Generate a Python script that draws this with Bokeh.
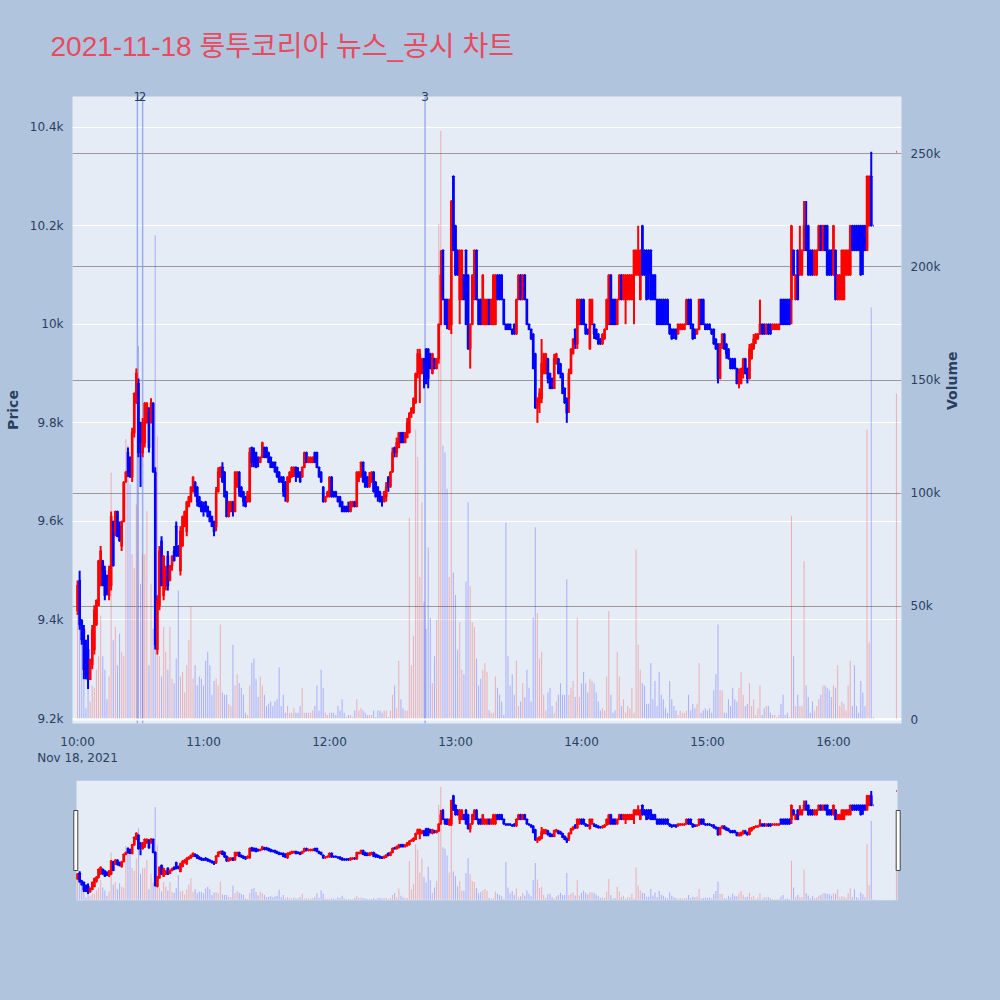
import math
import numpy as np
from bokeh.plotting import figure
from bokeh.layouts import column
from bokeh.models import (ColumnDataSource, Range1d, LinearAxis, FixedTicker, Title,
                          NumeralTickFormatter, DatetimeTickFormatter, Span, Grid)
from bokeh.embed import file_html
from bokeh.resources import INLINE

# ---------------- data ----------------
title_text = "2021-11-18 룽투코리아 뉴스_공시 차트"
session_day = "2021-11-18"
session_start = "2021-11-18T10:00"
# minute offsets from 10:00 (continuous session, then closing auction at 16:30)
minutes = list(range(380)) + [390]

opens = [
9420, 9480, 9400, 9380, 9340, 9340, 9280, 9310, 9340, 9390,
9430, 9470, 9520, 9500, 9490, 9450, 9470, 9600, 9580, 9620,
9590, 9550, 9600, 9680, 9740, 9730, 9690, 9780, 9840, 9880,
9800, 9740, 9760, 9800, 9830, 9800, 9840, 9700, 9340, 9430,
9560, 9450, 9470, 9530, 9480, 9510, 9540, 9590, 9550, 9500,
9550, 9590, 9580, 9630, 9640, 9660, 9680, 9670, 9650, 9640,
9630, 9640, 9630, 9620, 9610, 9600, 9590, 9660, 9690, 9710,
9700, 9660, 9610, 9620, 9640, 9620, 9670, 9700, 9670, 9660,
9650, 9640, 9640, 9750, 9740, 9740, 9730, 9720, 9730, 9750,
9750, 9740, 9730, 9720, 9720, 9710, 9700, 9690, 9690, 9680,
9640, 9680, 9690, 9700, 9710, 9700, 9700, 9690, 9710, 9740,
9720, 9720, 9720, 9740, 9740, 9710, 9700, 9670, 9640, 9650,
9650, 9690, 9660, 9660, 9650, 9650, 9640, 9630, 9630, 9630,
9620, 9630, 9640, 9630, 9690, 9690, 9720, 9700, 9690, 9670,
9680, 9700, 9680, 9670, 9660, 9650, 9640, 9650, 9690, 9670,
9700, 9750, 9740, 9750, 9780, 9780, 9760, 9770, 9780, 9820,
9820, 9840, 9900, 9900, 9900, 9930, 9950, 9950, 9940, 9900,
9930, 9910, 9930, 10000, 10150, 10050, 10050, 9990, 10000, 10300,
10200, 10150, 10050, 10050, 10100, 10150, 10100, 9950, 10000, 10050,
10150, 10050, 10050, 10000, 10000, 10000, 10050, 10000, 10000, 10000,
10100, 10100, 10100, 10050, 10000, 10000, 10000, 9990, 10000, 9980,
10050, 10100, 10050, 10100, 10050, 10000, 9990, 9980, 9940, 9830,
9840, 9850, 9900, 9900, 9930, 9900, 9890, 9870, 9920, 9930,
9920, 9900, 9870, 9850, 9850, 9900, 9940, 9990, 9960, 10000,
10050, 10050, 10000, 9990, 9950, 10000, 10000, 9990, 9980, 9970,
9960, 9970, 9990, 10000, 10100, 10050, 10050, 10000, 10050, 10100,
10050, 10050, 10050, 10050, 10050, 10100, 10100, 10100, 10050, 10200,
10150, 10150, 10150, 10150, 10100, 10100, 10050, 10050, 10050, 10050,
10050, 10050, 10000, 9990, 9990, 9990, 9980, 9990, 9990, 9990,
10000, 10050, 10050, 10000, 9990, 9980, 9990, 10050, 10050, 10000,
10000, 10000, 9990, 9990, 9970, 9960, 9890, 9960, 9980, 9960,
9950, 9930, 9930, 9930, 9910, 9880, 9880, 9900, 9930, 9910,
9890, 9930, 9950, 9970, 9970, 9980, 10000, 10000, 9980, 10000,
10000, 9990, 9990, 9990, 9990, 10050, 10050, 10050, 10050, 10050,
10050, 10150, 10050, 10150, 10100, 10100, 10150, 10200, 10200, 10150,
10150, 10100, 10100, 10150, 10200, 10150, 10200, 10200, 10150, 10150,
10100, 10150, 10050, 10050, 10050, 10050, 10100, 10100, 10100, 10200,
10200, 10200, 10200, 10200, 10200, 10200, 10150, 10200, 10300, 10200,
10350]

highs = [
9480, 9500, 9400, 9390, 9360, 9370, 9320, 9390, 9430, 9440,
9520, 9550, 9520, 9510, 9490, 9510, 9620, 9600, 9620, 9620,
9600, 9600, 9680, 9700, 9750, 9730, 9790, 9860, 9910, 9890,
9800, 9810, 9840, 9840, 9830, 9850, 9840, 9710, 9450, 9550,
9570, 9530, 9510, 9540, 9510, 9530, 9550, 9600, 9550, 9590,
9610, 9620, 9640, 9650, 9670, 9690, 9680, 9670, 9650, 9640,
9640, 9640, 9630, 9620, 9610, 9600, 9670, 9710, 9710, 9720,
9700, 9660, 9640, 9640, 9640, 9700, 9700, 9700, 9670, 9660,
9650, 9660, 9750, 9750, 9750, 9740, 9730, 9730, 9760, 9750,
9750, 9740, 9730, 9720, 9720, 9710, 9700, 9690, 9690, 9680,
9690, 9700, 9710, 9710, 9710, 9710, 9700, 9710, 9740, 9740,
9730, 9730, 9730, 9740, 9740, 9710, 9700, 9670, 9650, 9660,
9690, 9690, 9660, 9660, 9650, 9650, 9640, 9630, 9630, 9640,
9640, 9640, 9640, 9700, 9700, 9720, 9720, 9700, 9690, 9700,
9700, 9700, 9680, 9670, 9660, 9650, 9660, 9680, 9690, 9700,
9750, 9750, 9770, 9780, 9780, 9780, 9780, 9810, 9820, 9830,
9850, 9900, 9950, 9950, 9930, 9930, 9950, 9950, 9940, 9940,
9930, 9930, 10000, 10150, 10150, 10050, 10050, 10050, 10250, 10300,
10200, 10150, 10150, 10150, 10100, 10150, 10100, 10000, 10100, 10150,
10150, 10050, 10050, 10100, 10050, 10050, 10050, 10050, 10100, 10100,
10100, 10100, 10100, 10050, 10000, 10000, 10000, 9990, 10000, 10050,
10100, 10100, 10100, 10100, 10050, 10000, 9990, 9980, 9940, 9850,
9870, 9970, 9940, 9940, 9930, 9900, 9890, 9940, 9940, 9930,
9920, 9900, 9870, 9850, 9910, 9950, 9970, 9990, 10050, 10050,
10050, 10050, 10000, 9990, 10050, 10050, 10000, 9990, 9980, 9970,
9980, 9990, 10050, 10100, 10100, 10050, 10050, 10050, 10100, 10100,
10100, 10100, 10100, 10100, 10100, 10150, 10150, 10200, 10150, 10200,
10150, 10150, 10150, 10150, 10100, 10100, 10050, 10050, 10050, 10050,
10050, 10050, 10000, 9990, 9990, 9990, 10000, 10000, 10000, 10000,
10050, 10050, 10050, 10000, 9990, 9990, 10050, 10050, 10050, 10000,
10000, 10000, 9990, 9990, 9970, 9960, 9960, 9980, 9980, 9960,
9950, 9930, 9930, 9930, 9910, 9910, 9910, 9930, 9930, 9910,
9960, 9960, 9980, 9980, 9980, 10050, 10000, 10000, 10000, 10000,
10000, 10000, 10000, 10000, 10000, 10050, 10050, 10050, 10050, 10050,
10200, 10150, 10100, 10150, 10200, 10150, 10250, 10250, 10200, 10150,
10150, 10150, 10150, 10200, 10200, 10200, 10200, 10200, 10150, 10150,
10200, 10150, 10100, 10100, 10150, 10150, 10150, 10150, 10200, 10200,
10200, 10200, 10200, 10200, 10200, 10200, 10300, 10300, 10350, 10200,
10350]

lows = [
9410, 9380, 9350, 9280, 9280, 9260, 9280, 9300, 9330, 9390,
9430, 9470, 9470, 9440, 9450, 9440, 9460, 9510, 9570, 9570,
9560, 9540, 9600, 9680, 9690, 9690, 9680, 9770, 9840, 9730,
9670, 9730, 9750, 9800, 9740, 9800, 9700, 9340, 9330, 9420,
9470, 9440, 9460, 9460, 9480, 9500, 9520, 9530, 9530, 9490,
9550, 9590, 9570, 9630, 9640, 9660, 9650, 9630, 9630, 9620,
9610, 9620, 9610, 9600, 9590, 9570, 9580, 9660, 9690, 9680,
9650, 9610, 9610, 9620, 9610, 9620, 9670, 9650, 9650, 9630,
9630, 9640, 9640, 9710, 9710, 9710, 9710, 9720, 9730, 9730,
9730, 9720, 9710, 9710, 9700, 9690, 9680, 9680, 9650, 9640,
9640, 9680, 9690, 9690, 9680, 9690, 9680, 9690, 9710, 9720,
9720, 9720, 9720, 9720, 9710, 9690, 9680, 9640, 9640, 9650,
9650, 9650, 9650, 9650, 9640, 9630, 9620, 9620, 9620, 9620,
9620, 9630, 9630, 9630, 9680, 9690, 9680, 9670, 9670, 9670,
9680, 9660, 9650, 9640, 9640, 9630, 9640, 9640, 9660, 9670,
9700, 9730, 9730, 9750, 9760, 9760, 9760, 9770, 9780, 9810,
9820, 9840, 9890, 9840, 9900, 9870, 9880, 9870, 9910, 9900,
9910, 9910, 9920, 10000, 10050, 10000, 9990, 9990, 9980, 10150,
10100, 10100, 10000, 10050, 10050, 10000, 9950, 9910, 10000, 10050,
10050, 10000, 10000, 10000, 10000, 10000, 10000, 10000, 10000, 10000,
10050, 10050, 10050, 10000, 9990, 9990, 9990, 9980, 9980, 9980,
10050, 10050, 10050, 10050, 10000, 9990, 9970, 9910, 9830, 9800,
9820, 9840, 9900, 9900, 9880, 9870, 9870, 9870, 9920, 9900,
9890, 9860, 9840, 9800, 9820, 9900, 9940, 9950, 9950, 10000,
10000, 10000, 9980, 9980, 9950, 10000, 9970, 9970, 9960, 9960,
9960, 9970, 9990, 10000, 10000, 10000, 10000, 10000, 10050, 10050,
10050, 10000, 10050, 10050, 10050, 10000, 10100, 10100, 10050, 10100,
10100, 10050, 10050, 10050, 10050, 10050, 10000, 10000, 10000, 10000,
10000, 10000, 9980, 9970, 9970, 9970, 9980, 9990, 9990, 9990,
10000, 10000, 9990, 9970, 9970, 9980, 9990, 10000, 10000, 9990,
9990, 9990, 9980, 9960, 9950, 9880, 9890, 9950, 9950, 9930,
9930, 9910, 9910, 9910, 9880, 9870, 9880, 9890, 9900, 9880,
9890, 9930, 9950, 9960, 9970, 9980, 9980, 9980, 9980, 9980,
9980, 9990, 9990, 9990, 9990, 10000, 10000, 10000, 10000, 10000,
10000, 10100, 10050, 10050, 10100, 10100, 10150, 10150, 10100, 10100,
10100, 10100, 10100, 10150, 10150, 10150, 10150, 10100, 10100, 10100,
10100, 10050, 10050, 10050, 10050, 10050, 10100, 10100, 10100, 10150,
10150, 10150, 10150, 10100, 10100, 10150, 10150, 10200, 10200, 10200,
10350]

closes = [
9470, 9390, 9360, 9300, 9290, 9280, 9320, 9380, 9420, 9440,
9520, 9540, 9470, 9450, 9460, 9500, 9610, 9510, 9620, 9570,
9560, 9600, 9680, 9700, 9700, 9690, 9780, 9860, 9900, 9740,
9760, 9800, 9840, 9840, 9750, 9840, 9700, 9350, 9440, 9540,
9470, 9530, 9500, 9470, 9510, 9530, 9520, 9530, 9530, 9580,
9610, 9620, 9640, 9650, 9670, 9690, 9660, 9640, 9630, 9620,
9620, 9620, 9610, 9600, 9590, 9580, 9660, 9700, 9710, 9680,
9650, 9610, 9640, 9640, 9620, 9700, 9700, 9660, 9650, 9640,
9630, 9660, 9740, 9720, 9720, 9710, 9720, 9730, 9760, 9730,
9730, 9720, 9710, 9710, 9700, 9690, 9680, 9680, 9660, 9650,
9690, 9700, 9710, 9710, 9690, 9690, 9680, 9710, 9740, 9720,
9730, 9730, 9730, 9720, 9710, 9690, 9680, 9640, 9650, 9660,
9690, 9650, 9650, 9650, 9640, 9630, 9620, 9620, 9620, 9620,
9640, 9640, 9630, 9700, 9700, 9720, 9680, 9670, 9670, 9690,
9700, 9660, 9650, 9650, 9640, 9640, 9660, 9670, 9670, 9700,
9740, 9740, 9760, 9780, 9760, 9760, 9780, 9800, 9820, 9830,
9850, 9900, 9940, 9940, 9930, 9900, 9880, 9890, 9910, 9940,
9910, 9930, 10000, 10100, 10050, 10000, 10000, 10050, 10250, 10150,
10100, 10100, 10150, 10150, 10050, 10000, 9950, 10000, 10100, 10150,
10050, 10000, 10000, 10100, 10050, 10050, 10000, 10050, 10100, 10100,
10050, 10050, 10050, 10000, 9990, 9990, 9990, 9980, 9980, 10050,
10100, 10050, 10100, 10050, 10000, 9990, 9970, 9910, 9830, 9850,
9860, 9920, 9940, 9940, 9890, 9870, 9870, 9930, 9940, 9900,
9900, 9860, 9840, 9820, 9900, 9950, 9970, 9960, 10050, 10050,
10000, 10000, 9980, 9980, 10050, 10050, 9980, 9970, 9960, 9960,
9980, 9990, 10050, 10100, 10000, 10000, 10000, 10050, 10100, 10050,
10100, 10100, 10100, 10100, 10100, 10150, 10150, 10150, 10150, 10100,
10100, 10050, 10100, 10050, 10050, 10050, 10000, 10000, 10000, 10000,
10000, 10000, 9980, 9970, 9980, 9970, 10000, 10000, 10000, 10000,
10050, 10000, 10000, 9970, 9980, 9990, 10050, 10000, 10000, 9990,
9990, 9990, 9980, 9960, 9950, 9890, 9960, 9980, 9950, 9940,
9930, 9910, 9910, 9910, 9880, 9900, 9910, 9930, 9900, 9890,
9950, 9960, 9970, 9980, 9980, 10000, 9980, 9980, 10000, 9980,
9980, 10000, 10000, 10000, 10000, 10000, 10000, 10000, 10000, 10000,
10200, 10100, 10100, 10050, 10150, 10150, 10200, 10150, 10100, 10100,
10100, 10150, 10150, 10200, 10150, 10200, 10150, 10100, 10100, 10100,
10200, 10050, 10100, 10100, 10150, 10150, 10150, 10150, 10200, 10150,
10150, 10150, 10150, 10100, 10150, 10150, 10300, 10300, 10200, 10200,
10350]

volumes = [
48000, 44000, 41000, 32000, 5000, 22000, 8000, 15000, 14000, 22000,
28000, 46000, 28000, 22000, 9000, 19000, 109000, 35000, 41000, 24000,
38000, 30000, 28000, 124000, 121000, 104000, 73000, 67000, 95000, 165000,
60000, 73000, 73000, 92000, 24000, 60000, 40000, 214000, 125000, 28000,
19000, 41000, 30000, 22000, 41000, 18000, 16000, 27000, 57000, 19000,
21000, 12000, 24000, 35000, 50000, 18000, 24000, 15000, 19000, 18000,
15000, 26000, 30000, 24000, 11000, 17000, 18000, 15000, 42000, 12000,
11000, 11000, 7000, 6000, 33000, 15000, 20000, 16000, 14000, 11000,
3000, 2000, 15000, 25000, 27000, 18000, 10000, 19000, 15000, 11000,
6000, 7000, 8000, 6000, 8000, 9000, 23000, 6000, 11000, 3000,
6000, 3000, 3000, 5000, 3000, 3000, 6000, 14000, 3000, 3000,
3000, 3000, 4000, 6000, 15000, 4000, 22000, 14000, 3000, 2000,
3000, 3000, 3000, 2000, 6000, 4000, 9000, 3000, 1000, 2000,
2000, 1000, 4000, 9000, 4000, 5000, 4000, 3000, 2000, 2000,
2000, 4000, 1000, 4000, 4000, 3000, 4000, 4000, 1000, 4000,
11000, 15000, 5000, 26000, 9000, 5000, 4000, 4000, 89000, 24000,
37000, 128000, 116000, 63000, 96000, 52000, 40000, 76000, 45000, 16000,
28000, 44000, 219000, 260000, 121000, 118000, 102000, 63000, 184000, 65000,
55000, 31000, 43000, 22000, 20000, 61000, 96000, 59000, 43000, 41000,
27000, 15000, 18000, 22000, 25000, 21000, 4000, 3000, 3000, 19000,
14000, 11000, 8000, 2000, 87000, 28000, 15000, 20000, 11000, 26000,
6000, 8000, 16000, 10000, 22000, 14000, 8000, 45000, 85000, 47000,
27000, 30000, 11000, 4000, 12000, 14000, 6000, 3000, 8000, 11000,
16000, 11000, 11000, 62000, 11000, 14000, 17000, 10000, 45000, 10000,
16000, 21000, 16000, 12000, 18000, 17000, 16000, 12000, 8000, 4000,
5000, 4000, 19000, 48000, 11000, 3000, 4000, 30000, 19000, 6000,
9000, 3000, 6000, 5000, 14000, 3000, 75000, 33000, 22000, 16000,
15000, 7000, 7000, 25000, 9000, 17000, 6000, 21000, 11000, 9000,
5000, 3000, 17000, 9000, 6000, 4000, 2000, 4000, 3000, 3000,
4000, 11000, 4000, 7000, 5000, 7000, 25000, 3000, 4000, 5000,
4000, 5000, 3000, 13000, 20000, 42000, 13000, 13000, 3000, 3000,
9000, 6000, 14000, 9000, 8000, 14000, 21000, 11000, 6000, 7000,
16000, 6000, 9000, 2000, 5000, 15000, 2000, 5000, 6000, 6000,
3000, 2000, 2000, 1000, 2000, 7000, 11000, 2000, 3000, 1000,
90000, 28000, 6000, 11000, 6000, 6000, 70000, 15000, 10000, 3000,
8000, 4000, 6000, 9000, 11000, 15000, 15000, 14000, 13000, 10000,
15000, 14000, 24000, 6000, 8000, 7000, 4000, 15000, 26000, 6000,
24000, 6000, 3000, 17000, 12000, 6000, 128000, 34000, 182000, 1000,
144000]

news_times = ["10:28:30", "10:31:00", "12:45:30"]
news_labels = ["1", "2", "3"]
hour_labels = ["10:00", "11:00", "12:00", "13:00", "14:00", "15:00", "16:00"]
price_ticks = [9200, 9400, 9600, 9800, 10000, 10200, 10400]
volume_ticks = [0, 50000, 100000, 150000, 200000, 250000]

n = len(minutes)
assert len(opens) == n and len(highs) == n and len(lows) == n and len(closes) == n and len(volumes) == n, \
    (n, len(opens), len(highs), len(lows), len(closes), len(volumes))

# ---------------- styling constants ----------------
FONT = "DejaVu Sans"
TITLE_FONT = "'Liberation Sans', 'Noto Sans CJK KR', sans-serif"
TXT = "#2a3f5f"
PAGE_BG = "#B0C4DE"
PLOT_BG = "#E5ECF6"
UP, DOWN = "#FF0000", "#0000FF"

# ---------------- derived ----------------
MIN_MS = 60000.0
t0 = np.datetime64(session_start, "ms")
t0_ms = float(t0.astype("int64"))
times = t0 + np.array(minutes, dtype="int64") * np.timedelta64(60000, "ms")

def to_ms(hhmm):
    return float(np.datetime64(session_day + "T" + hhmm, "ms").astype("int64"))

hour_ms = [to_ms(h) for h in hour_labels]
news_ms = [to_ms(h) for h in news_times]

colors = []
prev_c, prev_up = None, True
for o, c in zip(opens, closes):
    if c > o:
        up = True
    elif c < o:
        up = False
    else:
        up = prev_up if (prev_c is None or c == prev_c) else (c > prev_c)
    colors.append(UP if up else DOWN)
    prev_c, prev_up = c, up

tops = [max(o, c) for o, c in zip(opens, closes)]
bots = [min(o, c) for o, c in zip(opens, closes)]

src = ColumnDataSource(dict(time=times, open=opens, high=highs, low=lows, close=closes,
                            volume=volumes, color=colors, top=tops, bottom=bots))

dom_lo = t0_ms + (minutes[0] - 0.5) * MIN_MS
dom_hi = t0_ms + (minutes[-1] + 0.5) * MIN_MS
px = (dom_hi - dom_lo) / 821.0
x_lo, x_hi = dom_lo - 4 * px, dom_hi + 4 * px

PRICE_LO, PRICE_HI = 9190, 10462
VOL_LO, VOL_HI = -1740, 275260

BAR_W = 30000
BODY_W = 18000


def style_axis(ax):
    ax.axis_line_color = None
    ax.major_tick_line_color = None
    ax.minor_tick_line_color = None
    ax.major_label_text_font = FONT
    ax.major_label_text_font_size = "12px"
    ax.major_label_text_color = TXT
    ax.axis_label_text_font = FONT
    ax.axis_label_text_font_size = "14px"
    ax.axis_label_text_font_style = "bold"
    ax.axis_label_text_color = TXT


def draw_series(fig):
    fig.vbar(x="time", top="volume", bottom=0, width=BAR_W, source=src,
             fill_color="color", fill_alpha=0.25, line_color=None, y_range_name="vol")
    fig.segment(x0="time", y0="low", x1="time", y1="high", source=src,
                line_color="color", line_width=2)
    fig.vbar(x="time", top="top", bottom="bottom", width=BODY_W, source=src,
             fill_color="color", line_color="color", line_width=2)


# ---------------- main chart ----------------
title = Title(text=title_text, text_font=TITLE_FONT, text_font_size="28px",
              text_font_style="normal", text_color="#E84A5F", align="left",
              offset=-22, standoff=54)

p = figure(width=1000, height=768, x_axis_type="datetime", title=title,
           x_range=Range1d(x_lo, x_hi), y_range=Range1d(PRICE_LO, PRICE_HI),
           output_backend="svg", toolbar_location=None,
           min_border_left=72, min_border_right=99, min_border_top=96, min_border_bottom=36,
           background_fill_color=PLOT_BG, border_fill_color=PAGE_BG, outline_line_color=None)
p.extra_y_ranges = {"vol": Range1d(VOL_LO, VOL_HI)}

left = p.left[0]
left.ticker = FixedTicker(ticks=price_ticks)
left.formatter = NumeralTickFormatter(format="0.[0]a")
left.major_label_standoff = 3
style_axis(left)
left.axis_label = "Price"
left.axis_label_standoff = 6

p.xgrid.grid_line_color = None
p.ygrid.ticker = FixedTicker(ticks=price_ticks)
p.ygrid.grid_line_color = "white"
p.ygrid.grid_line_width = 1

xa = p.below[0]
xa.ticker = FixedTicker(ticks=hour_ms)
ctx_fmt = DatetimeTickFormatter(hours="%b %d, %Y", hourmin="%b %d, %Y", minutes="%b %d, %Y")
xa.formatter = DatetimeTickFormatter(hours="%H:%M", hourmin="%H:%M", minutes="%H:%M",
                                     context=ctx_fmt, context_which="start",
                                     context_location="below")
xa.major_label_standoff = 5
style_axis(xa)

right = LinearAxis(y_range_name="vol", ticker=FixedTicker(ticks=volume_ticks),
                   formatter=NumeralTickFormatter(format="0.[0]a"))
right.major_label_standoff = 3
style_axis(right)
right.axis_label = "Volume"
right.axis_label_standoff = 9
right.axis_label_orientation = math.pi / 2
p.add_layout(right, "right")

# news markers: labels through an upper axis, lines through spans
news_axis = LinearAxis(ticker=FixedTicker(ticks=news_ms),
                       major_label_overrides={t: s for t, s in zip(news_ms, news_labels)})
style_axis(news_axis)
news_axis.major_label_standoff = -10
p.add_layout(news_axis, "above")

vgrid = Grid(dimension=1, ticker=FixedTicker(ticks=[v for v in volume_ticks if v > 0]),
             y_range_name="vol", grid_line_color="#9a9a9a", grid_line_width=1)
p.add_layout(vgrid)

for t in news_ms:
    p.add_layout(Span(location=t, dimension="height", line_color="#8A9EEE",
                      line_width=1.5, line_alpha=0.8, level="underlay"))

draw_series(p)

p.add_layout(Span(location=0, dimension="width", y_range_name="vol",
                  line_color="white", line_width=2))

# ---------------- range slider preview ----------------
m = figure(width=1000, height=232, x_axis_type="datetime", title=None,
           x_range=Range1d(x_lo, x_hi), y_range=Range1d(PRICE_LO, PRICE_HI),
           output_backend="svg", toolbar_location=None,
           x_axis_location=None, y_axis_location=None,
           min_border_left=72, min_border_right=99, min_border_top=12, min_border_bottom=100,
           background_fill_color=PAGE_BG, border_fill_color=PAGE_BG, outline_line_color=None)
m.extra_y_ranges = {"vol": Range1d(VOL_LO, VOL_HI)}
m.grid.visible = False

m.quad(left=[dom_lo], right=[dom_hi], bottom=[PRICE_LO], top=[PRICE_HI],
       fill_color=PLOT_BG, line_color=None)
draw_series(m)
h_lo = PRICE_LO + 0.25 * (PRICE_HI - PRICE_LO)
h_hi = PRICE_LO + 0.75 * (PRICE_HI - PRICE_LO)
m.quad(left=[dom_lo - 2.7 * px, dom_hi - 1.3 * px], right=[dom_lo + 1.3 * px, dom_hi + 2.7 * px],
       bottom=[h_lo, h_lo], top=[h_hi, h_hi], fill_color="white",
       line_color="#444444", line_width=1)

layout = column(p, m)
html = file_html(layout, INLINE, title="chart")
html = html.replace("<head>", "<head><style>html, body {margin:0; padding:0; background:#B0C4DE;}</style>", 1)
with open("out.html", "w", encoding="utf-8") as f:
    f.write(html)
